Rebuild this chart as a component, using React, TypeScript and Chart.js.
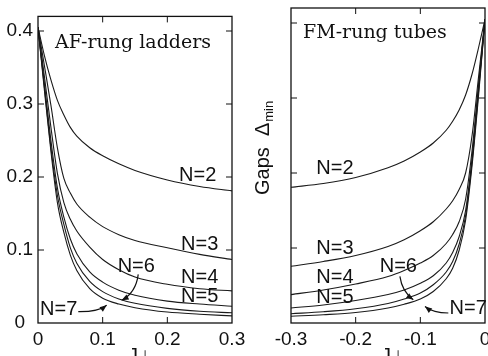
import React, { useEffect, useRef } from 'react';
import { Chart, registerables } from 'chart.js';

Chart.register(...registerables);

// ---- data -------------------------------------------------------------
const chainLabels = ['N=2', 'N=3', 'N=4', 'N=5', 'N=6', 'N=7'];

// AF-rung ladders (J_perp > 0)
const afJ = [0, 0.01, 0.02, 0.03, 0.04, 0.05, 0.06, 0.08, 0.1, 0.125, 0.15, 0.2, 0.25, 0.3];
const afGapN2 = [0.405, 0.366, 0.333, 0.305, 0.285, 0.268, 0.256, 0.24, 0.229, 0.218, 0.209, 0.196, 0.187, 0.181];
const afGapN3 = [0.405, 0.352, 0.298, 0.24, 0.198, 0.178, 0.163, 0.145, 0.132, 0.121, 0.113, 0.103, 0.094, 0.087];
const afGapN4 = [0.405, 0.337, 0.268, 0.205, 0.165, 0.142, 0.126, 0.104, 0.087, 0.073, 0.063, 0.053, 0.047, 0.044];
const afGapN5 = [0.405, 0.327, 0.25, 0.185, 0.145, 0.115, 0.095, 0.07, 0.056, 0.045, 0.038, 0.03, 0.026, 0.023];
const afGapN6 = [0.405, 0.322, 0.24, 0.175, 0.135, 0.103, 0.082, 0.057, 0.043, 0.033, 0.027, 0.02, 0.016, 0.014];
const afGapN7 = [0.405, 0.318, 0.235, 0.165, 0.124, 0.093, 0.072, 0.047, 0.034, 0.026, 0.021, 0.015, 0.012, 0.0097];

// FM-rung tubes (J_perp < 0)
const fmJ = [0, -0.01, -0.02, -0.03, -0.04, -0.05, -0.06, -0.08, -0.1, -0.125, -0.15, -0.2, -0.25, -0.3];
const fmGapN2 = [0.405, 0.367, 0.332, 0.304, 0.284, 0.269, 0.257, 0.24, 0.228, 0.216, 0.207, 0.194, 0.186, 0.181];
const fmGapN3 = [0.405, 0.328, 0.25, 0.2, 0.178, 0.163, 0.152, 0.135, 0.123, 0.111, 0.102, 0.09, 0.082, 0.0756];
const fmGapN4 = [0.405, 0.318, 0.23, 0.165, 0.135, 0.118, 0.106, 0.09, 0.08, 0.07, 0.062, 0.052, 0.044, 0.0378];
const fmGapN5 = [0.405, 0.313, 0.22, 0.15, 0.115, 0.094, 0.08, 0.063, 0.053, 0.044, 0.038, 0.03, 0.024, 0.02];
const fmGapN6 = [0.405, 0.308, 0.215, 0.143, 0.105, 0.082, 0.068, 0.051, 0.04, 0.032, 0.026, 0.019, 0.015, 0.0124];
const fmGapN7 = [0.405, 0.303, 0.21, 0.137, 0.097, 0.073, 0.059, 0.042, 0.032, 0.025, 0.02, 0.014, 0.011, 0.0089];

// axis ticks
const afTicks = [0, 0.1, 0.2, 0.3];
const fmTicks = [-0.3, -0.2, -0.1, 0];
const gapTicks = [0, 0.1, 0.2, 0.3, 0.4];

// curve labels, in data coordinates (same order as chainLabels)
const afLabelX = [0.247, 0.25, 0.25, 0.25, 0.152, 0.032];
const afLabelY = [0.202, 0.108, 0.062, 0.036, 0.078, 0.018];
const fmLabelX = [-0.232, -0.232, -0.232, -0.232, -0.134, -0.026];
const fmLabelY = [0.206, 0.1, 0.061, 0.034, 0.076, 0.019];

// pointer arrows for N=6 and N=7: [start, control, tip] in data coordinates
const afArrows = [
  [[0.155, 0.0667], [0.1515, 0.0417], [0.1294, 0.0311]],
  [[0.0623, 0.0155], [0.0928, 0.0151], [0.1062, 0.0244]],
];
const fmArrows = [
  [[-0.1316, 0.0621], [-0.1283, 0.0417], [-0.1109, 0.0311]],
  [[-0.0567, 0.0133], [-0.0804, 0.0137], [-0.0928, 0.0221]],
];

const SANS = '"Liberation Sans", Arial, Helvetica, sans-serif';
const SERIF = '"DejaVu Serif", serif';
const INK = '#111';
const CANVAS_W = 520;
const CANVAS_H = 356;

type Pt = number[];

interface PanelSpec {
  xs: number[];
  series: number[][];
  xTicks: number[];
  xMin: number;
  xMax: number;
  padLeft: number;
  padRight: number;
  yAxisWidth: number;
  showYLabels: boolean;
  title: string;
  titleDx: number;
  titleDy: number;
  labelX: number[];
  labelY: number[];
  arrows: Pt[][];
  yTitle: boolean;
}

const fmtTick = (v: number) => (Math.abs(v) < 1e-9 ? '0' : String(Math.round(v * 10) / 10));

const decorPlugin = {
  id: 'panelDecor',
  afterDraw(chart: any, _args: any, opts: any) {
    const { ctx, chartArea: a, scales } = chart;
    const sx = scales.x;
    const sy = scales.y;
    ctx.save();

    // frame
    ctx.strokeStyle = INK;
    ctx.lineWidth = 1.3;
    ctx.strokeRect(a.left, a.top, a.right - a.left, a.bottom - a.top);

    // inward tick marks on all four sides
    const tl = 6;
    ctx.lineWidth = 1;
    ctx.beginPath();
    for (const v of opts.xTicks as number[]) {
      const px = sx.getPixelForValue(v);
      if (px < a.left + 2 || px > a.right - 2) continue;
      ctx.moveTo(px, a.bottom);
      ctx.lineTo(px, a.bottom - tl);
      ctx.moveTo(px, a.top);
      ctx.lineTo(px, a.top + tl);
    }
    for (const v of gapTicks) {
      const py = sy.getPixelForValue(v);
      if (py > a.bottom - 2 || py < a.top + 2) continue;
      ctx.moveTo(a.left, py);
      ctx.lineTo(a.left + tl, py);
      ctx.moveTo(a.right, py);
      ctx.lineTo(a.right - tl, py);
    }
    ctx.stroke();

    // panel title
    ctx.fillStyle = INK;
    ctx.font = `19px ${SERIF}`;
    ctx.textAlign = 'left';
    ctx.textBaseline = 'alphabetic';
    ctx.fillText(opts.title, a.left + opts.titleDx, a.top + opts.titleDy);

    // curve labels
    ctx.font = `20px ${SANS}`;
    ctx.textAlign = 'center';
    ctx.textBaseline = 'middle';
    chainLabels.forEach((t, i) => {
      ctx.fillText(t, sx.getPixelForValue(opts.labelX[i]), sy.getPixelForValue(opts.labelY[i]));
    });

    // arrows
    ctx.lineWidth = 1.2;
    for (const [s, c, e] of opts.arrows as Pt[][]) {
      const x0 = sx.getPixelForValue(s[0]);
      const y0 = sy.getPixelForValue(s[1]);
      const x1 = sx.getPixelForValue(c[0]);
      const y1 = sy.getPixelForValue(c[1]);
      const x2 = sx.getPixelForValue(e[0]);
      const y2 = sy.getPixelForValue(e[1]);
      ctx.beginPath();
      ctx.moveTo(x0, y0);
      ctx.quadraticCurveTo(x1, y1, x2, y2);
      ctx.stroke();
      const ang = Math.atan2(y2 - y1, x2 - x1);
      const len = 7;
      const half = 2.8;
      ctx.beginPath();
      ctx.moveTo(x2, y2);
      ctx.lineTo(x2 - len * Math.cos(ang) + half * Math.sin(ang), y2 - len * Math.sin(ang) - half * Math.cos(ang));
      ctx.lineTo(x2 - len * Math.cos(ang) - half * Math.sin(ang), y2 - len * Math.sin(ang) + half * Math.cos(ang));
      ctx.closePath();
      ctx.fill();
    }

    // x-axis title: J with a perpendicular-sign subscript
    const cx = (a.left + a.right) / 2;
    ctx.textAlign = 'left';
    ctx.textBaseline = 'alphabetic';
    ctx.font = `20px ${SANS}`;
    const jx = cx - 7;
    ctx.fillText('J', jx, a.bottom + 39);
    const jw = ctx.measureText('J').width;
    ctx.font = `14px "DejaVu Sans", ${SANS}`;
    ctx.fillText('\u22A5', jx + jw + 1, a.bottom + 37);

    // y-axis title, written bottom to top
    if (opts.yTitle) {
      ctx.translate(a.left - 22, 195);
      ctx.rotate(-Math.PI / 2);
      ctx.font = `20px ${SANS}`;
      const main = 'Gaps  \u0394';
      ctx.fillText(main, 0, 0);
      const w = ctx.measureText(main).width;
      ctx.font = `13px ${SANS}`;
      ctx.fillText('min', w + 1, 4);
    }
    ctx.restore();
  },
};

function GapPanel({ spec }: { spec: PanelSpec }) {
  const ref = useRef<HTMLCanvasElement | null>(null);

  useEffect(() => {
    const canvas = ref.current;
    if (!canvas) return;
    const datasets = spec.series.map((ys, k) => ({
      label: chainLabels[k],
      data: spec.xs.map((x, i) => ({ x, y: ys[i] })),
      borderColor: '#1a1a1a',
      borderWidth: 1.1,
      pointRadius: 0,
      fill: false,
      cubicInterpolationMode: 'monotone' as const,
    }));

    const chart = new Chart(canvas, {
      type: 'line',
      data: { datasets },
      plugins: [decorPlugin],
      options: {
        animation: false,
        responsive: false,
        devicePixelRatio: 1,
        events: [],
        layout: {
          autoPadding: false,
          padding: { left: spec.padLeft, right: spec.padRight, top: 8, bottom: 0 },
        },
        plugins: {
          legend: { display: false },
          tooltip: { enabled: false },
          panelDecor: {
            xTicks: spec.xTicks,
            title: spec.title,
            titleDx: spec.titleDx,
            titleDy: spec.titleDy,
            labelX: spec.labelX,
            labelY: spec.labelY,
            arrows: spec.arrows,
            yTitle: spec.yTitle,
          },
        } as any,
        scales: {
          x: {
            type: 'linear',
            min: spec.xMin,
            max: spec.xMax,
            grid: { display: false, drawTicks: false },
            border: { display: false },
            afterBuildTicks: (s: any) => {
              s.ticks = spec.xTicks.map((value) => ({ value }));
            },
            afterFit: (s: any) => {
              s.height = 33;
            },
            ticks: {
              color: INK,
              padding: 5,
              maxRotation: 0,
              autoSkip: false,
              font: { family: SANS, size: 19 },
              callback: (v: any) => fmtTick(Number(v)),
            },
          },
          y: {
            type: 'linear',
            min: 0,
            max: 0.42,
            grid: { display: false, drawTicks: false },
            border: { display: false },
            afterBuildTicks: (s: any) => {
              s.ticks = gapTicks.map((value) => ({ value }));
            },
            afterFit: (s: any) => {
              s.width = spec.yAxisWidth;
            },
            ticks: {
              display: spec.showYLabels,
              color: INK,
              padding: 5,
              crossAlign: 'center',
              font: { family: SANS, size: 19 },
              callback: (v: any) => fmtTick(Number(v)),
            },
          },
        },
      },
    });
    return () => chart.destroy();
  }, [spec]);

  return (
    <canvas
      ref={ref}
      width={CANVAS_W}
      height={CANVAS_H}
      style={{ position: 'absolute', left: 0, top: 0, width: CANVAS_W, height: CANVAS_H }}
    />
  );
}

const afSpec: PanelSpec = {
  xs: afJ,
  series: [afGapN2, afGapN3, afGapN4, afGapN5, afGapN6, afGapN7],
  xTicks: afTicks,
  xMin: 0,
  xMax: 0.3,
  padLeft: 0,
  padRight: CANVAS_W - 232,
  yAxisWidth: 38,
  showYLabels: true,
  title: 'AF-rung ladders',
  titleDx: 17,
  titleDy: 32,
  labelX: afLabelX,
  labelY: afLabelY,
  arrows: afArrows,
  yTitle: false,
};

const fmSpec: PanelSpec = {
  xs: fmJ,
  series: [fmGapN2, fmGapN3, fmGapN4, fmGapN5, fmGapN6, fmGapN7],
  xTicks: fmTicks,
  xMin: -0.3,
  xMax: 0,
  padLeft: 250,
  padRight: CANVAS_W - 485,
  yAxisWidth: 41,
  showYLabels: false,
  title: 'FM-rung tubes',
  titleDx: 12,
  titleDy: 30,
  labelX: fmLabelX,
  labelY: fmLabelY,
  arrows: fmArrows,
  yTitle: true,
};

export default function App() {
  return (
    <div
      style={{
        position: 'fixed',
        left: 0,
        top: 0,
        width: 488,
        height: 356,
        overflow: 'hidden',
        background: '#fff',
      }}
    >
      <GapPanel spec={afSpec} />
      <GapPanel spec={fmSpec} />
    </div>
  );
}
